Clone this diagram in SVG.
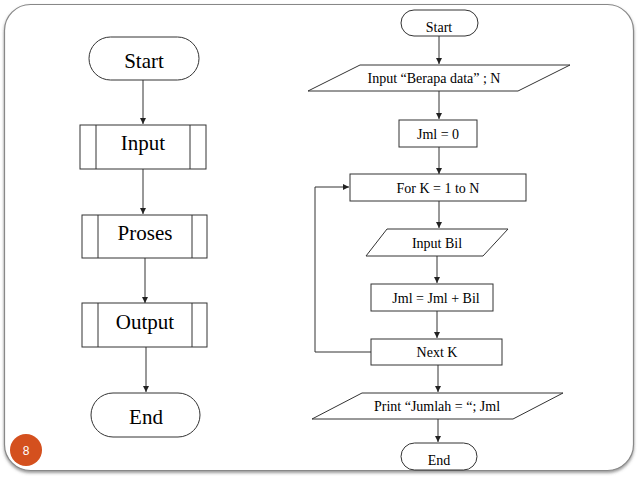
<svg xmlns="http://www.w3.org/2000/svg" width="638" height="478" viewBox="0 0 638 478">
<style>
.n{fill:#fff;stroke:#333;stroke-width:1}
.c{fill:none;stroke:#333;stroke-width:1}
.t1{font-family:"Liberation Serif",serif;font-size:21px;fill:#000;text-anchor:middle}
.t2{font-family:"Liberation Serif",serif;font-size:14px;fill:#000;text-anchor:middle}
</style>
<defs>
<marker id="a" viewBox="0 0 6 6" refX="6" refY="3" markerWidth="6" markerHeight="6" markerUnits="userSpaceOnUse" orient="auto">
<path d="M0,0 L6,3 L0,6 Z" fill="#222"/>
</marker>
<filter id="sh" x="-5%" y="-5%" width="110%" height="115%">
<feDropShadow dx="0" dy="2" stdDeviation="1.5" flood-color="#555" flood-opacity="0.6"/>
</filter>
</defs>
<rect width="638" height="478" fill="#fff"/>
<rect id="frame" x="4.5" y="4.5" width="629" height="466" rx="26" fill="#fff" stroke="#888" stroke-width="1.2" filter="url(#sh)"/>
<g id="connectors">
<path class="c" d="M143,80 V124" marker-end="url(#a)"/>
<path class="c" d="M143,169 V214" marker-end="url(#a)"/>
<path class="c" d="M145,258 V303" marker-end="url(#a)"/>
<path class="c" d="M146,347 V392" marker-end="url(#a)"/>
<path class="c" d="M439,36 V64" marker-end="url(#a)"/>
<path class="c" d="M439,91 V119" marker-end="url(#a)"/>
<path class="c" d="M439,147 V174" marker-end="url(#a)"/>
<path class="c" d="M439,201 V228" marker-end="url(#a)"/>
<path class="c" d="M437,256 V283" marker-end="url(#a)"/>
<path class="c" d="M437,311 V338" marker-end="url(#a)"/>
<path class="c" d="M371,352 H315 V187 H349" marker-end="url(#a)"/>
<path class="c" d="M438,365 V392" marker-end="url(#a)"/>
<path class="c" d="M438,419 V442" marker-end="url(#a)"/>
</g>
<g id="l-start"><rect class="n" x="89" y="37" width="110" height="43" rx="21.5"/><text class="t1" x="144" y="68">Start</text></g>
<g id="l-input"><rect class="n" x="80" y="125" width="126" height="44"/><path class="c" d="M96,125 V169 M190,125 V169"/><text class="t1" x="143" y="150">Input</text></g>
<g id="l-proses"><rect class="n" x="82" y="215" width="125" height="43"/><path class="c" d="M98,215 V258 M192,215 V258"/><text class="t1" x="145" y="240">Proses</text></g>
<g id="l-output"><rect class="n" x="82" y="303" width="125" height="44"/><path class="c" d="M98,303 V347 M192,303 V347"/><text class="t1" x="145" y="329">Output</text></g>
<g id="l-end"><rect class="n" x="91" y="393" width="109" height="44" rx="22"/><text class="t1" x="146" y="424">End</text></g>
<g id="r-start"><rect class="n" x="401" y="10" width="77" height="26" rx="13"/><text class="t2" x="439" y="32">Start</text></g>
<g id="r-inputn"><polygon class="n" points="360,65 570,65 518,91 308,91"/><text class="t2" x="434" y="83">Input “Berapa data” ; N</text></g>
<g id="r-jml0"><rect class="n" x="399" y="120" width="78" height="27"/><text class="t2" x="438" y="139">Jml = 0</text></g>
<g id="r-for"><rect class="n" x="350" y="174" width="176" height="27"/><text class="t2" x="438" y="193">For K = 1 to N</text></g>
<g id="r-inputbil"><polygon class="n" points="387,229 508,229 483,256 366,256"/><text class="t2" x="437" y="248">Input Bil</text></g>
<g id="r-sum"><rect class="n" x="371" y="284" width="122" height="27"/><text class="t2" x="436" y="303">Jml = Jml + Bil</text></g>
<g id="r-next"><rect class="n" x="371" y="339" width="131" height="26"/><text class="t2" x="437" y="357">Next K</text></g>
<g id="r-print"><polygon class="n" points="362,393 563,393 513,419 312,419"/><text class="t2" x="437" y="411">Print “Jumlah = “; Jml</text></g>
<g id="r-end"><rect class="n" x="401" y="443" width="76" height="27" rx="13.5"/><text class="t2" x="439" y="465">End</text></g>
<g id="page"><circle cx="26" cy="450" r="16" fill="#d4501e"/><text x="26" y="454.5" font-family="Liberation Sans, sans-serif" font-size="12" fill="#fff" text-anchor="middle">8</text></g>
</svg>
